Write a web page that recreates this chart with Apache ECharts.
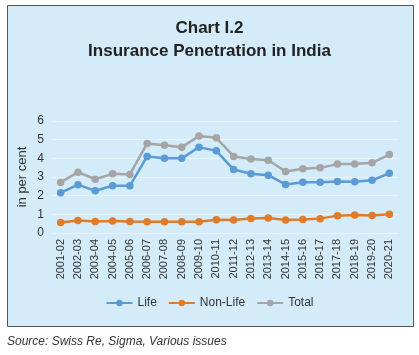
<!DOCTYPE html>
<html><head><meta charset="utf-8">
<script src="https://cdn.jsdelivr.net/npm/echarts@6/dist/echarts.min.js"></script>
<style>html,body{margin:0;padding:0;background:#fff}#c{width:419px;height:355px}</style>
</head><body><div id="c"></div>
<script>
const categories = ["2001-02","2002-03","2003-04","2004-05","2005-06","2006-07","2007-08","2008-09","2009-10","2010-11","2011-12","2012-13","2013-14","2014-15","2015-16","2016-17","2017-18","2018-19","2019-20","2020-21"];
const life = [2.15,2.59,2.26,2.53,2.53,4.10,4.00,4.00,4.60,4.40,3.40,3.17,3.10,2.60,2.72,2.72,2.76,2.74,2.82,3.20];
const nonLife = [0.56,0.67,0.62,0.64,0.61,0.60,0.60,0.60,0.60,0.71,0.70,0.78,0.80,0.70,0.72,0.77,0.93,0.97,0.94,1.00];
const total = [2.71,3.26,2.88,3.17,3.14,4.80,4.70,4.60,5.20,5.10,4.10,3.96,3.90,3.30,3.44,3.49,3.69,3.70,3.76,4.20];
const yTicks = [0,1,2,3,4,5,6];

const FONT = '"Liberation Sans Narrow","Liberation Sans",Arial,sans-serif';
const chart = echarts.init(document.getElementById('c'), null, {renderer:'canvas'});
function mk(name, data, color){
  return {name, type:'line', data, symbol:'circle', symbolSize:7.5,
    lineStyle:{width:2.5,color}, itemStyle:{color}, z:3};
}
chart.setOption({
  animation:false,
  textStyle:{fontFamily:FONT},
  graphic:[
    {type:'rect', left:7, top:5, shape:{width:406, height:321}, style:{fill:'#D4ECF9', stroke:'#555', lineWidth:1}, z:-10},
    {type:'text', left:7, top:336, style:{text:'Source: Swiss Re, Sigma, Various issues', font:'italic 12px '+FONT, fill:'#333'}}
  ],
  title:[
    {text:'Chart I.2', left:'center', top:15, textStyle:{fontFamily:FONT, fontSize:17, fontWeight:'bold', color:'#222'}},
    {text:'Insurance Penetration in India', left:'center', top:38, textStyle:{fontFamily:FONT, fontSize:17, fontWeight:'bold', color:'#222'}}
  ],
  legend:{bottom:41, left:'center', itemWidth:26, itemHeight:8, itemGap:11,
    textStyle:{fontFamily:FONT, fontSize:12, color:'#333'},
    data:['Life','Non-Life','Total']},
  grid:{left:52, right:21, top:121, bottom:122},
  xAxis:{type:'category', data:categories, boundaryGap:true,
    axisLine:{show:false}, axisTick:{show:false},
    axisLabel:{rotate:90, fontSize:11, color:'#333', margin:6, fontFamily:FONT}},
  yAxis:{type:'value', min:0, max:6, interval:1,
    name:'in per cent', nameLocation:'middle', nameGap:23, nameRotate:90, nameMoveOverlap:false,
    nameTextStyle:{fontSize:13, color:'#333', fontFamily:FONT},
    axisLine:{show:false}, axisTick:{show:false},
    axisLabel:{fontSize:12, color:'#333', margin:8, fontFamily:FONT, formatter:v=>yTicks.includes(v)?String(v):''},
    splitLine:{lineStyle:{color:'rgba(255,255,255,0.45)', width:1}}},
  series:[mk('Life', life, '#5B9BD5'), mk('Non-Life', nonLife, '#E07B2A'), mk('Total', total, '#A5A5A5')]
});
</script></body></html>
